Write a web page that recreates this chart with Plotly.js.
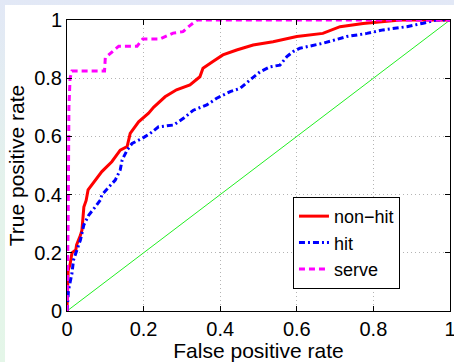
<!DOCTYPE html>
<html>
<head>
<meta charset="utf-8">
<script src="https://cdn.plot.ly/plotly-3.0.1.min.js"></script>
<style>
  html, body { margin: 0; padding: 0; width: 454px; height: 362px; overflow: hidden;
    background: linear-gradient(to bottom, #e2e8f6 0%, #e4f2ec 50%, #e4f6e8 100%); }
  #chart { position: absolute; left: 5px; top: 5px; width: 449px; height: 357px; }
</style>
</head>
<body>
<div id="chart"></div>
<script>
// Chance diagonal
const diagX = [0, 1];
const diagY = [0, 1];

// non-hit ROC
const nonHitFpr = [0, 0.003, 0.003, 0.008, 0.013, 0.023, 0.025, 0.035, 0.039, 0.044, 0.05, 0.055, 0.074, 0.091, 0.117, 0.139, 0.157, 0.165, 0.187, 0.213, 0.226, 0.243, 0.256, 0.286, 0.321, 0.347, 0.355, 0.381, 0.407, 0.443, 0.486, 0.538, 0.6, 0.668, 0.713, 0.773, 0.843, 0.87, 1];
const nonHitTpr = [0, 0.1, 0.14, 0.16, 0.2, 0.21, 0.227, 0.26, 0.278, 0.357, 0.38, 0.416, 0.45, 0.479, 0.513, 0.553, 0.565, 0.61, 0.65, 0.68, 0.70, 0.72, 0.736, 0.76, 0.777, 0.805, 0.834, 0.857, 0.88, 0.897, 0.914, 0.925, 0.943, 0.954, 0.977, 0.988, 0.997, 1, 1];

// hit ROC
const hitFpr = [0, 0.004, 0.013, 0.017, 0.026, 0.035, 0.044, 0.057, 0.074, 0.087, 0.091, 0.109, 0.126, 0.139, 0.144, 0.157, 0.17, 0.196, 0.217, 0.239, 0.278, 0.304, 0.33, 0.365, 0.391, 0.426, 0.452, 0.478, 0.504, 0.53, 0.556, 0.574, 0.59, 0.608, 0.668, 0.73, 0.783, 0.825, 0.887, 0.93, 0.965, 1];
const hitTpr = [0, 0.072, 0.13, 0.175, 0.21, 0.244, 0.296, 0.33, 0.358, 0.381, 0.399, 0.427, 0.45, 0.485, 0.519, 0.553, 0.576, 0.593, 0.61, 0.633, 0.639, 0.662, 0.69, 0.708, 0.731, 0.754, 0.765, 0.794, 0.822, 0.839, 0.845, 0.874, 0.891, 0.903, 0.92, 0.943, 0.954, 0.966, 0.977, 0.989, 1, 1];

// serve ROC
const serveFpr = [0, 0.003, 0.005, 0.008, 0.013, 0.098, 0.1, 0.117, 0.135, 0.183, 0.198, 0.243, 0.277, 0.303, 0.32, 0.34, 1];
const serveTpr = [0, 0.3, 0.7, 0.8, 0.825, 0.825, 0.87, 0.889, 0.91, 0.91, 0.935, 0.935, 0.955, 0.96, 0.98, 1, 1];

const seriesNames = ['non\u2212hit', 'hit', 'serve'];
const tickVals = [0, 0.2, 0.4, 0.6, 0.8, 1];
const tickText = ['0', '0.2', '0.4', '0.6', '0.8', '1'];

const traces = [
  { x: diagX, y: diagY, mode: 'lines', showlegend: false, hoverinfo: 'skip',
    line: { color: '#22ee22', width: 1 } },
  { x: nonHitFpr, y: nonHitTpr, mode: 'lines', name: seriesNames[0],
    line: { color: '#ff0000', width: 3 } },
  { x: hitFpr, y: hitTpr, mode: 'lines', name: seriesNames[1],
    line: { color: '#0000ff', width: 3, dash: '6px,3px,2px,3px' } },
  { x: serveFpr, y: serveTpr, mode: 'lines', name: seriesNames[2],
    line: { color: '#ff00ff', width: 3, dash: '6px,4px' } }
];

const axisCommon = {
  range: [0, 1], showline: true, linecolor: '#000', linewidth: 1, mirror: 'ticks',
  ticks: 'inside', ticklen: 5, tickcolor: '#000', tickwidth: 1,
  tickvals: tickVals, ticktext: tickText, ticklabeloverflow: 'allow',
  showgrid: true, gridcolor: '#b4b4b4', gridwidth: 1, griddash: '1px,3px',
  zeroline: false, tickfont: { size: 20, color: '#000' }
};

const layout = {
  width: 449, height: 357,
  margin: { l: 62, r: 4, t: 15, b: 51 },
  paper_bgcolor: '#ffffff', plot_bgcolor: '#ffffff',
  font: { family: 'Liberation Sans, Arial, sans-serif', color: '#000' },
  xaxis: Object.assign({}, axisCommon, {
    title: { text: 'False positive rate', font: { size: 21 }, standoff: 2 }
  }),
  yaxis: Object.assign({}, axisCommon, {
    title: { text: 'True positive rate', font: { size: 21 }, standoff: 6 }
  }),
  legend: {
    x: 0.59, y: 0.392, xanchor: 'left', yanchor: 'top',
    bgcolor: '#ffffff', bordercolor: '#000', borderwidth: 1,
    font: { size: 18 }
  },
  showlegend: true
};

Plotly.newPlot('chart', traces, layout, { displayModeBar: false, staticPlot: true });
</script>
</body>
</html>
